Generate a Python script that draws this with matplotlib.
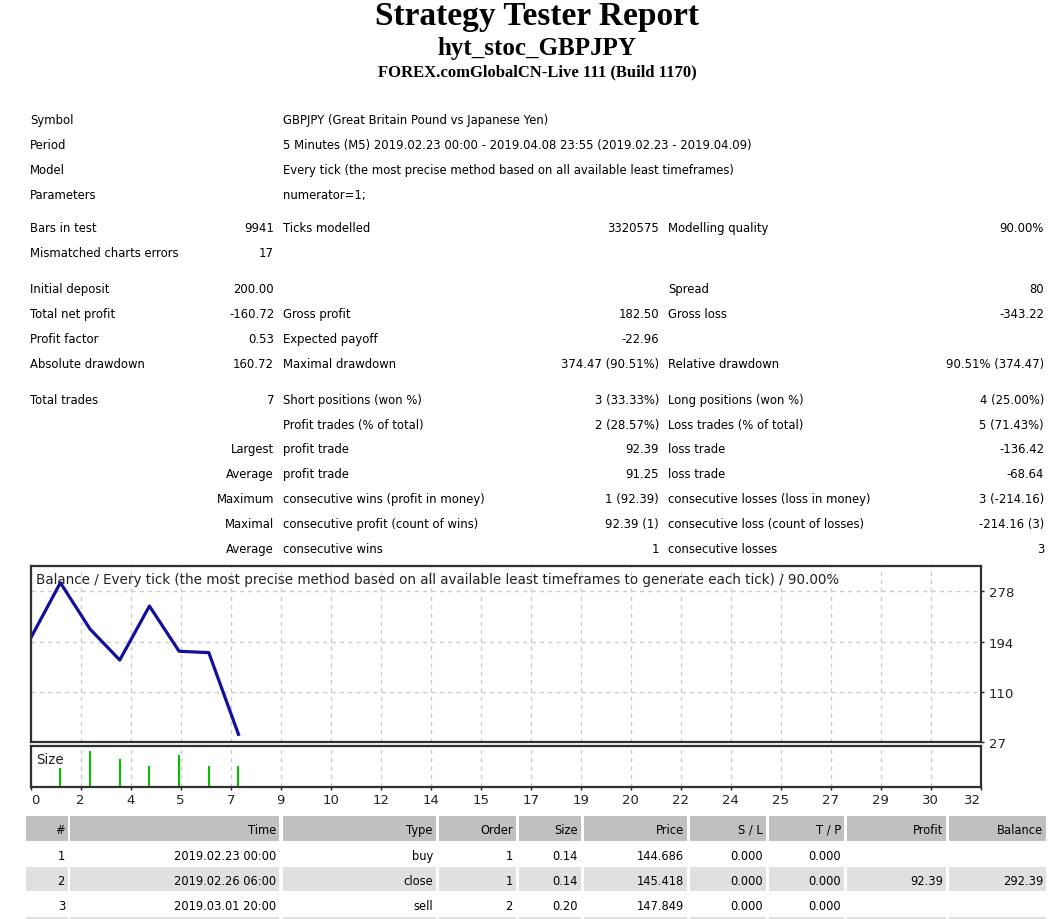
import matplotlib
matplotlib.use('Agg')
import matplotlib.pyplot as plt
from matplotlib.patches import Rectangle

W, H = 1064, 920

# balance after each trade (trade number 0..7)
balance = [200.00, 292.39, 215.0, 163.33, 253.44, 178.0, 175.70, 39.28]
# lot size of each closed trade
sizes = [0.14, 0.26, 0.20, 0.15, 0.23, 0.15, 0.15]
x_labels = ['0', '2', '4', '5', '7', '9', '10', '12', '14', '15', '17', '19',
            '20', '22', '24', '25', '27', '29', '30', '32']
y_labels = [27, 110, 194, 278]

# (label, value, label, value, label, value)
stats = [
    ('Symbol', '', 'GBPJPY (Great Britain Pound vs Japanese Yen)', '', '', ''),
    ('Period', '', '5 Minutes (M5) 2019.02.23 00:00 - 2019.04.08 23:55 (2019.02.23 - 2019.04.09)', '', '', ''),
    ('Model', '', 'Every tick (the most precise method based on all available least timeframes)', '', '', ''),
    ('Parameters', '', 'numerator=1;', '', '', ''),
    ('Bars in test', '9941', 'Ticks modelled', '3320575', 'Modelling quality', '90.00%'),
    ('Mismatched charts errors', '17', '', '', '', ''),
    ('Initial deposit', '200.00', '', '', 'Spread', '80'),
    ('Total net profit', '-160.72', 'Gross profit', '182.50', 'Gross loss', '-343.22'),
    ('Profit factor', '0.53', 'Expected payoff', '-22.96', '', ''),
    ('Absolute drawdown', '160.72', 'Maximal drawdown', '374.47 (90.51%)', 'Relative drawdown', '90.51% (374.47)'),
    ('Total trades', '7', 'Short positions (won %)', '3 (33.33%)', 'Long positions (won %)', '4 (25.00%)'),
    ('', '', 'Profit trades (% of total)', '2 (28.57%)', 'Loss trades (% of total)', '5 (71.43%)'),
    ('Largest', '', 'profit trade', '92.39', 'loss trade', '-136.42'),
    ('Average', '', 'profit trade', '91.25', 'loss trade', '-68.64'),
    ('Maximum', '', 'consecutive wins (profit in money)', '1 (92.39)', 'consecutive losses (loss in money)', '3 (-214.16)'),
    ('Maximal', '', 'consecutive profit (count of wins)', '92.39 (1)', 'consecutive loss (count of losses)', '-214.16 (3)'),
    ('Average', '', 'consecutive wins', '1', 'consecutive losses', '3'),
]
right_label_rows = [12, 13, 14, 15, 16]
row_y = [120.7, 145.5, 170.5, 195.5, 228.3, 253.3, 289.3, 314.3, 339.3, 364.5,
         400.5, 425.5, 450, 474.7, 499.7, 524.7, 549.7]

headers = ['#', 'Time', 'Type', 'Order', 'Size', 'Price', 'S / L', 'T / P', 'Profit', 'Balance']
trades = [
    ['1', '2019.02.23 00:00', 'buy', '1', '0.14', '144.686', '0.000', '0.000', '', ''],
    ['2', '2019.02.26 06:00', 'close', '1', '0.14', '145.418', '0.000', '0.000', '92.39', '292.39'],
    ['3', '2019.03.01 20:00', 'sell', '2', '0.20', '147.849', '0.000', '0.000', '', ''],
]
col_left = [26, 70, 283, 439, 519, 584, 690, 769, 847, 949]
col_right = [68, 279, 436, 516, 581, 687, 766, 844, 946, 1046]

fig = plt.figure(figsize=(W / 100, H / 100), dpi=100)
page = fig.add_axes([0, 0, 1, 1])
page.set_xlim(0, W)
page.set_ylim(H, 0)
page.axis('off')

SANS = 'DejaVu Sans'
SERIF = 'Liberation Serif'

page.text(537, 25, 'Strategy Tester Report', ha='center', va='baseline',
          family=SERIF, fontweight='bold', fontsize=24)
page.text(537, 55, 'hyt_stoc_GBPJPY', ha='center', va='baseline',
          family=SERIF, fontweight='bold', fontsize=18)
page.text(537, 76, 'FOREX.comGlobalCN-Live 111 (Build 1170)', ha='center', va='baseline',
          family=SERIF, fontweight='bold', fontsize=12)

def cell(x, y, s, ha='left', fs=8.4):
    if s:
        page.text(x, y, s, ha=ha, va='center', family=SANS, fontsize=fs, color='black')

for i, (row, y) in enumerate(zip(stats, row_y)):
    l1, v1, l2, v2, l3, v3 = row
    if i in right_label_rows:
        cell(274, y, l1, 'right')
    else:
        cell(30, y, l1)
    cell(274, y, v1, 'right')
    cell(283, y, l2)
    cell(659, y, v2, 'right')
    cell(668, y, l3)
    cell(1044, y, v3, 'right')

# trades table
row_top = 817
row_h = 25
for j, (a, b) in enumerate(zip(col_left, col_right)):
    page.add_patch(Rectangle((a, row_top), b - a, row_h, color='#c0c0c0', lw=0))
    page.text(b - 3, row_top + row_h / 2 + 1, headers[j], ha='right', va='center',
              family=SANS, fontsize=8.3)
for i in range(len(trades) + 1):
    top = row_top + (i + 1) * row_h + 1
    if i % 2 == 1:
        for a, b in zip(col_left, col_right):
            page.add_patch(Rectangle((a, top), b - a, row_h - 1, color='#e0e0e0', lw=0))
    if i < len(trades):
        for j, b in enumerate(col_right):
            if trades[i][j]:
                page.text(b - 3, top + row_h / 2 + 1, trades[i][j], ha='right', va='center',
                          family=SANS, fontsize=8.3)

# chart axes
L, R = 30.7, 980.5
bt, bb = 567.3, 742.7
st, sb = 746.7, 787.7
ax = fig.add_axes([L / W, 1 - bb / H, (R - L) / W, (bb - bt) / H])
axs = fig.add_axes([L / W, 1 - sb / H, (R - L) / W, (sb - st) / H])

n_x = 32
xt = [k * n_x / (len(x_labels) - 1) for k in range(len(x_labels))]
step = (y_labels[-1] - y_labels[0]) / (len(y_labels) - 1)

ax.plot(range(len(balance)), balance, color='#10109c', lw=2.3, solid_joinstyle='round')
ax.set_xlim(0, n_x)
ax.set_ylim(y_labels[0], y_labels[0] + 3.5 * step)
ax.set_yticks(y_labels)
ax.set_yticklabels([str(v) for v in y_labels])
ax.yaxis.tick_right()
ax.set_xticks(xt)
ax.tick_params(axis='x', length=0, labelbottom=False)
ax.tick_params(axis='y', length=2, width=1, pad=4, labelsize=9.5, colors='#222222')
ax.grid(True, color='#cccccc', ls=(0, (3, 3)), lw=1)
ax.text(5.5 / (R - L), 0.93, 'Balance / Every tick (the most precise method based on all '
        'available least timeframes to generate each tick) / 90.00%',
        transform=ax.transAxes, ha='left', va='center', family=SANS, fontsize=9.75,
        color='#222222')

axs.vlines(range(1, len(sizes) + 1), 0, sizes, color='#00c000', lw=1.5)
axs.set_xlim(0, n_x)
axs.set_ylim(0, 0.30)
axs.set_yticks([])
axs.set_xticks(xt)
axs.set_xticklabels(x_labels)
axs.tick_params(axis='x', length=2, width=1, pad=2.5, labelsize=9.5, colors='#222222')
labs = axs.get_xticklabels()
labs[0].set_ha('left')
labs[-1].set_ha('right')
axs.grid(True, axis='x', color='#cccccc', ls=(0, (3, 3)), lw=1)
axs.text(5.5 / (R - L), 0.68, 'Size', transform=axs.transAxes, ha='left', va='center',
         family=SANS, fontsize=9.75, color='#222222')

for a in (ax, axs):
    for sp in a.spines.values():
        sp.set_color('#303030')
        sp.set_linewidth(1.6)
    for lab in a.get_xticklabels() + a.get_yticklabels():
        lab.set_family(SANS)

fig.savefig('out.png', dpi=100)
